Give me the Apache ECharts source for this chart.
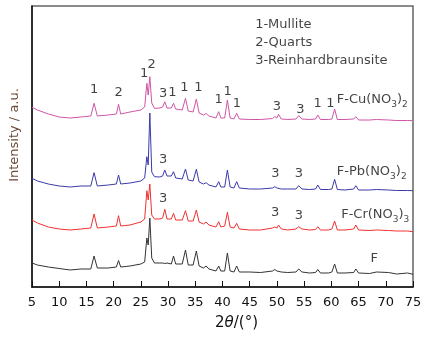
<!DOCTYPE html>
<html>
<head>
<meta charset="utf-8">
<script src="https://cdn.jsdelivr.net/npm/echarts@6/dist/echarts.min.js"></script>
<style>html,body{margin:0;padding:0;background:#fff}#c{width:425px;height:339px}</style>
</head>
<body>
<div id="c"></div>
<script>
// 2θ (degrees) sampling positions shared by all patterns
const twoTheta = [5,6,8,10,12,14,15.8,16.4,17,19,20.5,20.9,21.3,23,25,25.7,26.1,26.35,26.65,27.0,27.5,28.5,29.0,29.4,29.8,30.6,31.0,31.4,32.6,33.2,33.7,34.6,35.2,35.7,36.5,37.0,37.5,38.8,39.3,39.7,40.4,40.9,41.4,42.1,42.6,43.1,45,47,49.2,49.6,50.0,50.3,50.8,52,53.5,54.0,54.6,56,57.1,57.5,58,59.5,60.1,60.6,61.1,62.5,64.1,64.5,65,67,68.3,70.5,72,74,75];

// intensities (a.u., stacked offsets as drawn)
const F    = [24,22,20,18.5,17,18,18,31,19,19,20,26.5,20,21,23,25,49,42,69,29,24,24,24,23.5,24,23,31,23,23,37,22,22,36,21,19,21,18,16,21,16,16,34,16,15,21,15,15,14.5,16,17.5,16,17.5,15,14.5,15,18,15,14,14.5,17.5,14,14,15,23,14,14,14.5,18,14,13.5,15,14.5,13,14,12.7];
const FCr  = [67,64,60,58,57,58,59,73,59,60,61,71.3,61,62,65,68,96.3,87,103,72,68,68,69,77.7,68,68,73.7,67,67,76.3,66,66,77,65,63,65,62,60,65.3,60,61,74.7,60,59,63.7,58,57,57,59,60,59,62,58,57,58,60.3,58,57,57.5,60.3,57,57,58,66,57,57,58,62,57,56.5,57,56.5,56,56,55.3];
const FPb  = [108.7,106,103,101,100,101,101,114.3,101,102,103,112,103,104,106,109,130.3,122,174,115,110.3,110,111,117,111,111,115.3,109,108,118,107,106,117.7,105,103,104.3,102,100,105.3,100,100,117,100,99,105.3,99,98,98,99,100.3,99,100,98,98,98,101.3,98,97.5,98,102,97.5,97.5,98,107.7,97.5,97,98,101.3,97,97,97.5,97,96.5,96.5,96.3];
const FCu  = [179.7,177,173,170,169,170,171,183.7,171,172,173,182.7,173,175,177,180,203.7,192,210.3,184,178.7,179,180,185.3,179,179,183.7,178,177,188.7,176,175,188,174,172,173.5,171,169,175.3,169,169,187,169,168,173.7,168,167.5,167.5,168.5,170.5,169,172.7,168,167.5,168,171.3,168,167.5,168,172,167.5,167.5,168,178,167.5,167.5,168,170.3,167,167,167.5,167,166.5,166.5,166.3];

// x-axis ticks
const xMin = 5, xMax = 75, xStep = 5;

// phase markers: [2θ, height, text]
const peakMarks = [
  [16.4,197,'1'],[20.9,194.3,'2'],[25.6,213,'1'],[27.0,222,'2'],[29.1,193.7,'3'],[30.8,194,'1'],
  [33.0,199,'1'],[35.55,199,'1'],[39.3,187,'1'],[40.95,195.3,'1'],[42.66,183.7,'1'],
  [50.0,180.3,'3'],[54.3,177,'3'],[57.5,183.7,'1'],[59.8,183.7,'1'],
  [29.1,127.7,'3'],[49.7,113,'3'],[54.05,113,'3'],
  [29.1,88.7,'3'],[49.65,74.3,'3'],[54.05,71,'3']
];
// sample names: [2θ, height, text]
const sampleNames = [
  [61.0,187,'F-Cu(NO{s|3}){s|2}'],
  [61.0,115.3,'F-Pb(NO{s|3}){s|2}'],
  [61.8,72,'F-Cr(NO{s|3}){s|3}'],
  [67.9,28,'F']
];
// phase key
const phaseKey = [
  [46.0,262,'1-Mullite'],[46.0,244,'2-Quarts'],[46.0,226,'3-Reinhardbraunsite']
];

const colors = {F:'#333333', FCr:'#f03030', FPb:'#3a3aa8', FCu:'#cf55a6'};
const font = 'DejaVu Sans';

function lineSeries(vals, color){
  return {type:'line', data: twoTheta.map((x,i)=>[x, vals[i]]), showSymbol:false, symbol:'none',
    lineStyle:{color, width:1}, silent:true, z:2};
}
function textSeries(arr, align){
  return {type:'scatter', symbolSize:0, silent:true, z:5,
    data: arr.map(d=>({value:[d[0],d[1]], name:d[2]})),
    label:{show:true, position:'inside', formatter:p=>p.name, color:'#111', fontFamily:font, fontSize:13, align:align,
      rich:{s:{fontSize:9, fontFamily:font, color:'#111', padding:[9,0,0,0]}}}};
}

const chart = echarts.init(document.getElementById('c'), null, {renderer:'canvas'});
chart.setOption({
  animation:false,
  grid:{left:32, right:12, top:6, bottom:52, show:true, borderColor:'#666', borderWidth:1.5, backgroundColor:'transparent'},
  xAxis:{type:'value', min:xMin, max:xMax, interval:xStep,
    axisLine:{show:true, onZero:false, lineStyle:{color:'#111', width:1.5}},
    axisTick:{show:true, inside:true, length:6, lineStyle:{color:'#111', width:1}},
    axisLabel:{color:'#111', fontFamily:font, fontSize:13, margin:9},
    splitLine:{show:false},
    name:'2{i|θ}/(°)', nameLocation:'middle', nameGap:29,
    nameTextStyle:{color:'#111', fontFamily:font, fontSize:15, padding:[0,0,0,28],
      rich:{i:{fontStyle:'italic', fontFamily:font, fontSize:15, color:'#111'}}}
  },
  yAxis:{type:'value', min:0, max:281,
    axisLine:{show:true, lineStyle:{color:'#111', width:1.5}},
    axisTick:{show:false}, axisLabel:{show:false}, splitLine:{show:false},
    name:'Intensity / a.u.', nameLocation:'middle', nameGap:11, nameRotate:90,
    nameTextStyle:{color:'#6b4a3a', fontFamily:font, fontSize:13, padding:[0,0,0,23]}
  },
  series:[
    lineSeries(F, colors.F),
    lineSeries(FCr, colors.FCr),
    lineSeries(FPb, colors.FPb),
    lineSeries(FCu, colors.FCu),
    textSeries(peakMarks,'center'),
    textSeries(sampleNames.slice(0,3),'left'),
    textSeries(sampleNames.slice(3),'center'),
    textSeries(phaseKey,'left')
  ]
});
</script>
</body>
</html>
